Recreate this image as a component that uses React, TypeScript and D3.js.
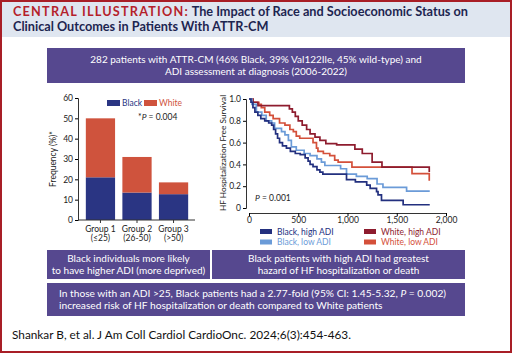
import React, { useEffect, useRef } from 'react';
import * as d3 from 'd3';

// bar chart data (ADI groups)
const groups = ['Group 1', 'Group 2', 'Group 3'];
const groupRanges = ['(≤25)', '(26-50)', '(>50)'];
const blackPct = [21, 13.5, 12.7];
const whitePct = [29, 17.5, 5.8];
const barTicks = [0, 10, 20, 30, 40, 50, 60];

// Kaplan-Meier curves (days, survival)
const bhTime = [0, 20, 40, 60, 90, 120, 160, 200, 230, 250, 270, 290, 310, 340, 380, 420, 470, 520, 570, 600, 620, 650, 690, 720, 750, 990, 1080, 1195, 1230, 1295, 1310, 1345, 1565, 1835];
const bhSurv = [1, 0.97, 0.92, 0.88, 0.85, 0.82, 0.8, 0.78, 0.76, 0.72, 0.68, 0.64, 0.6, 0.57, 0.55, 0.52, 0.5, 0.49, 0.46, 0.43, 0.4, 0.38, 0.35, 0.33, 0.31, 0.26, 0.24, 0.21, 0.18, 0.15, 0.12, 0.07, 0.03, 0.03];
const blTime = [0, 30, 75, 130, 175, 230, 260, 330, 365, 400, 430, 480, 560, 620, 690, 735, 770, 930, 990, 1090, 1200, 1300, 1360, 1600, 1835];
const blSurv = [1, 0.95, 0.88, 0.85, 0.8, 0.78, 0.73, 0.7, 0.67, 0.62, 0.56, 0.53, 0.5, 0.48, 0.45, 0.42, 0.39, 0.36, 0.31, 0.29, 0.27, 0.22, 0.19, 0.155, 0.155];
const whTime = [0, 40, 90, 410, 440, 470, 500, 540, 585, 620, 670, 720, 780, 890, 1075, 1150, 1250, 1350, 1830];
const whSurv = [1, 0.97, 0.94, 0.91, 0.88, 0.84, 0.8, 0.76, 0.72, 0.68, 0.65, 0.62, 0.59, 0.58, 0.54, 0.5, 0.42, 0.375, 0.33];
const wlTime = [0, 40, 100, 125, 160, 210, 245, 310, 365, 415, 450, 480, 515, 650, 685, 700, 755, 820, 870, 905, 1045, 1655, 1830];
const wlSurv = [1, 0.97, 0.95, 0.92, 0.88, 0.85, 0.82, 0.78, 0.76, 0.72, 0.7, 0.66, 0.64, 0.6, 0.55, 0.52, 0.5, 0.48, 0.44, 0.42, 0.375, 0.315, 0.25];
const kmXTicks = [0, 500, 1000, 1500, 2000];
const kmYTicks = [0, 0.2, 0.4, 0.6, 0.8, 1.0];

const NAVY = '#23307f';
const LIGHT = '#6b9bd8';
const DARKRED = '#8e1c2e';
const ORANGE = '#d4503a';
const BAR_BLACK = '#2a3583';
const BAR_WHITE = '#cf533d';
const PURPLE = '#56488f';
const FONT = 'Lato, "Open Sans", sans-serif';

const App: React.FC = () => {
  const svgRef = useRef<SVGSVGElement>(null);

  useEffect(() => {
    const svg = d3.select(svgRef.current);
    svg.selectAll('*').remove();
    svg.style('font-family', FONT);

    // background + header
    svg.append('rect').attr('width', 512).attr('height', 353).attr('fill', '#fff');
    svg.append('rect').attr('x', 1).attr('y', 1).attr('width', 510).attr('height', 36).attr('fill', '#dfe6f0');
    svg.append('rect').attr('x', 1).attr('y', 1).attr('width', 510).attr('height', 351)
      .attr('fill', 'none').attr('stroke', '#a81e26').attr('stroke-width', 2);

    const title1 = svg.append('text').attr('x', 13).attr('y', 16)
      .style('font-size', '12.7px').style('font-weight', 'bold');
    title1.append('tspan').attr('fill', '#b51f2b').style('letter-spacing', '1.2px').text('CENTRAL ILLUSTRATION:');
    title1.append('tspan').attr('fill', '#1d2550').text(' The Impact of Race and Socioeconomic Status on');
    svg.append('text').attr('x', 13).attr('y', 31).attr('fill', '#1d2550')
      .style('font-size', '12.7px').style('font-weight', 'bold')
      .text('Clinical Outcomes in Patients With ATTR-CM');

    // purple boxes
    const box = (x: number, y: number, w: number, h: number, lines: string[], tx: number) => {
      svg.append('rect').attr('x', x).attr('y', y).attr('width', w).attr('height', h).attr('fill', PURPLE);
      lines.forEach((l, i) => {
        svg.append('text').attr('x', tx).attr('y', y + h / 2 + (i - (lines.length - 1) / 2) * 11.5 + 3.5)
          .attr('text-anchor', 'middle').attr('fill', '#fff').style('font-size', '10px').text(l);
      });
    };
    box(47, 48, 418, 35, ['282 patients with ATTR-CM (46% Black, 39% Val122Ile, 45% wild-type) and', 'ADI assessment at diagnosis (2006-2022)'], 256);
    box(47, 250, 163, 29, ['Black individuals more likely', 'to have higher ADI (more deprived)'], 128.5);
    box(212, 250, 253, 29, ['Black patients with high ADI had greatest', 'hazard of HF hospitalization or death'], 338.5);
    svg.append('rect').attr('x', 47).attr('y', 283).attr('width', 418).attr('height', 33).attr('fill', PURPLE);
    const bt1 = svg.append('text').attr('x', 59).attr('y', 296.5).attr('fill', '#fff').style('font-size', '10.2px');
    bt1.append('tspan').text('In those with an ADI >25, Black patients had a 2.77-fold (95% CI: 1.45-5.32, ');
    bt1.append('tspan').style('font-style', 'italic').text('P');
    bt1.append('tspan').text(' = 0.002)');
    svg.append('text').attr('x', 59).attr('y', 308.5).attr('fill', '#fff').style('font-size', '10.2px')
      .text('increased risk of HF hospitalization or death compared to White patients');

    svg.append('text').attr('x', 12).attr('y', 339).attr('fill', '#111').style('font-size', '11.8px')
      .text('Shankar B, et al. J Am Coll Cardiol CardioOnc. 2024;6(3):454-463.');

    // ---- bar chart ----
    const by = d3.scaleLinear().domain([0, 60]).range([220, 98]);
    const bx = d3.scaleBand().domain(groups).range([84, 190]).paddingInner(0.2).paddingOuter(0.05);
    const bg = svg.append('g');
    groups.forEach((g, i) => {
      const x0 = bx(g) || 0;
      bg.append('rect').attr('x', x0).attr('y', by(blackPct[i])).attr('width', bx.bandwidth())
        .attr('height', by(0) - by(blackPct[i])).attr('fill', BAR_BLACK);
      bg.append('rect').attr('x', x0).attr('y', by(blackPct[i] + whitePct[i])).attr('width', bx.bandwidth())
        .attr('height', by(blackPct[i]) - by(blackPct[i] + whitePct[i])).attr('fill', BAR_WHITE);
    });
    const yAx = bg.append('g').attr('transform', 'translate(78,0)')
      .call(d3.axisLeft(by).tickValues(barTicks).tickSize(3).tickFormat(d3.format('d')));
    yAx.select('.domain').attr('stroke', '#333');
    yAx.selectAll('text').style('font-size', '8.5px').style('font-family', FONT).attr('fill', '#222').attr('dx', 1);
    bg.append('line').attr('x1', 78).attr('x2', 195).attr('y1', 220).attr('y2', 220).attr('stroke', '#333');
    groups.forEach((g, i) => {
      const cx = (bx(g) || 0) + bx.bandwidth() / 2;
      bg.append('line').attr('x1', cx).attr('x2', cx).attr('y1', 220).attr('y2', 223).attr('stroke', '#333');
      bg.append('text').attr('x', cx).attr('y', 232).attr('text-anchor', 'middle').style('font-size', '8.5px').attr('fill', '#222').text(g);
      bg.append('text').attr('x', cx).attr('y', 241).attr('text-anchor', 'middle').style('font-size', '8.5px').attr('fill', '#222').text(groupRanges[i]);
    });
    bg.append('text').attr('transform', 'translate(56,159) rotate(-90)').attr('text-anchor', 'middle')
      .style('font-size', '8.5px').attr('fill', '#222').text('Frequency (%)*');
    bg.append('rect').attr('x', 107).attr('y', 100).attr('width', 13).attr('height', 6).attr('fill', BAR_BLACK);
    bg.append('text').attr('x', 122).attr('y', 106).style('font-size', '8.5px').attr('fill', BAR_BLACK).text('Black');
    bg.append('rect').attr('x', 144).attr('y', 100).attr('width', 13).attr('height', 6).attr('fill', BAR_WHITE);
    bg.append('text').attr('x', 159).attr('y', 106).style('font-size', '8.5px').attr('fill', BAR_WHITE).text('White');
    const pt = bg.append('text').attr('x', 138).attr('y', 120).style('font-size', '8.5px').attr('fill', '#222');
    pt.append('tspan').text('*');
    pt.append('tspan').style('font-style', 'italic').text('P');
    pt.append('tspan').text(' = 0.004');

    // ---- KM chart ----
    const kx = d3.scaleLinear().domain([0, 2000]).range([249, 446]);
    const ky = d3.scaleLinear().domain([0, 1]).range([208, 99]);
    const kg = svg.append('g');
    const kyAx = kg.append('g').attr('transform', 'translate(246,0)')
      .call(d3.axisLeft(ky).tickValues(kmYTicks).tickSize(3).tickFormat(d => (+d === 0 ? '0' : d3.format('.1f')(+d))));
    kyAx.select('.domain').attr('stroke', '#333');
    kyAx.selectAll('text').style('font-size', '8.5px').style('font-family', FONT).attr('fill', '#222').attr('dx', 1);
    const kxAx = kg.append('g').attr('transform', 'translate(0,213)')
      .call(d3.axisBottom(kx).tickValues(kmXTicks).tickSize(3).tickPadding(1).tickFormat(d3.format(',')));
    kxAx.select('.domain').attr('stroke', '#333');
    kxAx.selectAll('text').style('font-size', '8.5px').style('font-family', FONT).attr('fill', '#222');
    kg.append('text').attr('transform', 'translate(226,153) rotate(-90)').attr('text-anchor', 'middle')
      .style('font-size', '8.3px').attr('fill', '#222').text('HF Hospitalization Free Survival');

    const line = d3.line<[number, number]>().x(d => kx(d[0])).y(d => ky(d[1])).curve(d3.curveStepAfter);
    const curves: [number[], number[], string][] = [
      [wlTime, wlSurv, ORANGE],
      [whTime, whSurv, DARKRED],
      [blTime, blSurv, LIGHT],
      [bhTime, bhSurv, NAVY],
    ];
    curves.forEach(([t, s, c]) => {
      const pts = t.map((v, i) => [v, s[i]] as [number, number]);
      kg.append('path').attr('d', line(pts)).attr('fill', 'none').attr('stroke', c).attr('stroke-width', 1.7);
    });
    const kp = kg.append('text').attr('x', 255).attr('y', 201).style('font-size', '8.5px').attr('fill', '#222');
    kp.append('tspan').style('font-style', 'italic').text('P');
    kp.append('tspan').text(' = 0.001');

    const legend: [string, string, number, number][] = [
      ['Black, high ADI', NAVY, 260, 231.5],
      ['Black, low ADI', LIGHT, 260, 242],
      ['White, high ADI', DARKRED, 364, 231.5],
      ['White, low ADI', ORANGE, 364, 242],
    ];
    legend.forEach(([label, c, x, y]) => {
      kg.append('rect').attr('x', x).attr('y', y - 2.5).attr('width', 12).attr('height', 5).attr('fill', c);
      kg.append('text').attr('x', x + 17).attr('y', y + 3).style('font-size', '8.5px').attr('fill', c).text(label);
    });
  }, []);

  return (
    <svg ref={svgRef} width={512} height={353} style={{ position: 'absolute', left: 0, top: 0, display: 'block' }} />
  );
};

export default App;
